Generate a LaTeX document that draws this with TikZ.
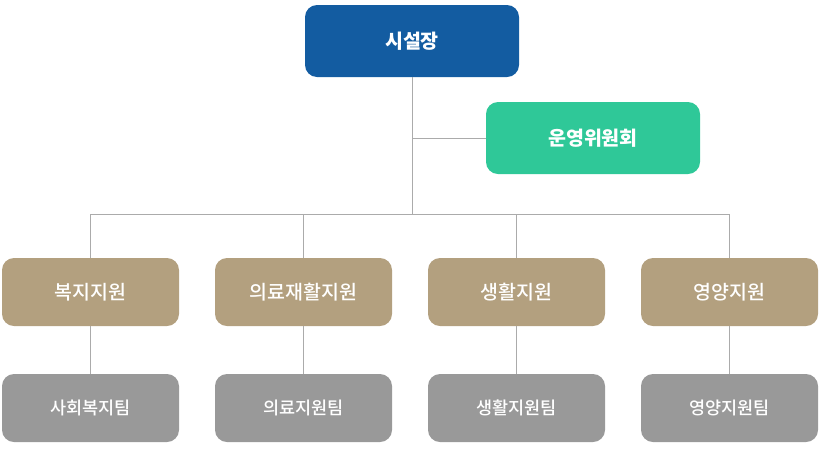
\documentclass[tikz,border=0pt]{standalone}
\usepackage{fontspec}
\setmainfont{Noto Sans CJK KR}
\newfontfamily\krmed{Noto Sans CJK KR}[UprightFont={* Medium}]
\usepackage{xcolor}
\usetikzlibrary{positioning,calc}
\definecolor{chiefblue}{HTML}{135CA1}
\definecolor{boardgreen}{HTML}{2FC898}
\definecolor{depttan}{HTML}{B3A07F}
\definecolor{teamgray}{HTML}{999999}
\definecolor{linegray}{HTML}{ABABAB}

\begin{document}
\begin{tikzpicture}[x=1pt,y=-1pt,
    box/.style={rounded corners=12pt,minimum width=177pt,minimum height=68pt,inner sep=0pt,text=white},
    link/.style={draw=linegray,line width=1pt}]
    \useasboundingbox (0,0) rectangle (822,448);
    % top level
    \node[box,fill=chiefblue,minimum width=214pt,minimum height=72pt,font=\bfseries\fontsize{19.5}{22}\selectfont] (chief) at (412,41) {시설장};
    \node[box,fill=boardgreen,minimum width=214pt,minimum height=72pt,font=\bfseries\fontsize{19.5}{22}\selectfont] (board) at (593,138) {운영위원회};
    \coordinate (hub) at (412,214);
    \draw[link] (chief.south) -- (hub);
    \draw[link] (chief.south |- board.west) -- (board.west);
    % departments and teams
    \foreach \i/\dept/\team in {0/복지지원/사회복지팀,1/의료재활지원/의료지원팀,2/생활지원/생활지원팀,3/영양지원/영양지원팀} {
      \node[box,fill=depttan,font=\krmed\fontsize{19.5}{22}\selectfont] (dept\i) at (90.5+213*\i,292) {\dept};
      \node[box,fill=teamgray,font=\krmed\fontsize{17.5}{20}\selectfont] (team\i) at (90.5+213*\i,408) {\team};
      \draw[link] (dept\i.north |- hub) -- (dept\i.north);
      \draw[link] (dept\i.south) -- (team\i.north);
    }
    \draw[link] (dept0.north |- hub) -- (dept3.north |- hub);
\end{tikzpicture}
\end{document}
